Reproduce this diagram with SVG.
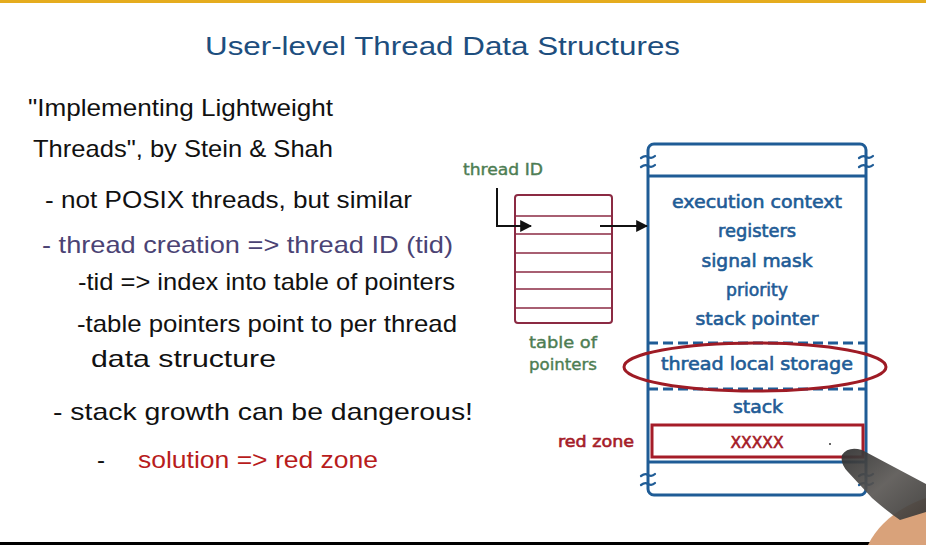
<svg xmlns="http://www.w3.org/2000/svg" width="926" height="545" viewBox="0 0 926 545">
<defs>
<style>
.hw{font-family:"Liberation Sans","DejaVu Sans",sans-serif;font-size:24px;fill:#111}
.purple{fill:#4b4374}
.redt{fill:#b81c1c}
.title{font-family:"Liberation Sans","DejaVu Sans",sans-serif;font-size:26px;fill:#1d4e7e}
.dg{font-family:"DejaVu Sans","Liberation Sans",sans-serif;font-size:17px;fill:#1f5c96;stroke:#1f5c96;stroke-width:0.6;text-anchor:middle}
.green{font-family:"DejaVu Sans","Liberation Sans",sans-serif;font-size:16px;fill:#4d7d52;stroke:#4d7d52;stroke-width:0.4}
.rz{font-family:"DejaVu Sans","Liberation Sans",sans-serif;font-size:16px;fill:#a51c28;stroke:#a51c28;stroke-width:0.6}
.blue{stroke:#1f5c96;stroke-width:3;fill:none}
.brk{stroke:#1f5c96;stroke-width:2.2;fill:none;stroke-linecap:round}
.row{stroke:#8b2a43;stroke-width:1.6}
.conn{stroke:#111;stroke-width:2;fill:none}
</style>
<marker id="ah" viewBox="0 0 10 10" refX="9" refY="5" markerWidth="6" markerHeight="6" orient="auto" markerUnits="strokeWidth">
<path d="M0,0 L10,5 L0,10 z" fill="#111"/>
</marker>
<linearGradient id="pen" x1="0" y1="0" x2="1" y2="1">
<stop offset="0" stop-color="#2e2e2e"/>
<stop offset="0.5" stop-color="#5a5754"/>
<stop offset="1" stop-color="#3a3836"/>
</linearGradient>
</defs>
<rect x="0" y="0" width="926" height="545" fill="#fff"/>
<rect x="0" y="0" width="926" height="3" fill="#e5ac1e"/>
<rect x="0" y="542" width="926" height="3" fill="#000"/>

<g id="title">
<text class="title" x="205" y="55" textLength="475" lengthAdjust="spacingAndGlyphs">User-level Thread Data Structures</text>
</g>

<g id="notes">
<text class="hw" x="28" y="116" textLength="305" lengthAdjust="spacingAndGlyphs">"Implementing Lightweight</text>
<text class="hw" x="33" y="157" textLength="300" lengthAdjust="spacingAndGlyphs">Threads", by Stein &amp; Shah</text>
<text class="hw" x="45" y="208" textLength="367" lengthAdjust="spacingAndGlyphs">- not POSIX threads, but similar</text>
<text class="hw purple" x="42" y="253" textLength="411" lengthAdjust="spacingAndGlyphs">- thread creation =&gt; thread ID (tid)</text>
<text class="hw" x="78" y="290" textLength="377" lengthAdjust="spacingAndGlyphs">-tid =&gt; index into table of pointers</text>
<text class="hw" x="77" y="332" textLength="380" lengthAdjust="spacingAndGlyphs">-table pointers point to per thread</text>
<text class="hw" x="91" y="367" textLength="185" lengthAdjust="spacingAndGlyphs">data structure</text>
<text class="hw" x="53" y="420" textLength="420" lengthAdjust="spacingAndGlyphs">- stack growth can be dangerous!</text>
<text class="hw" x="97" y="468">-</text>
<text class="hw redt" x="138" y="468" textLength="240" lengthAdjust="spacingAndGlyphs">solution =&gt; red zone</text>
</g>

<g id="thread-id-label">
<text class="green" x="463" y="175" textLength="80" lengthAdjust="spacingAndGlyphs">thread ID</text>
</g>

<g id="table-of-pointers">
<rect x="515" y="195" width="97" height="128" rx="3" fill="none" stroke="#8b2a43" stroke-width="2"/>
<line class="row" x1="515" y1="216" x2="612" y2="216"/>
<line class="row" x1="515" y1="234" x2="612" y2="234"/>
<line class="row" x1="515" y1="253" x2="612" y2="253"/>
<line class="row" x1="515" y1="272" x2="612" y2="272"/>
<line class="row" x1="515" y1="289" x2="612" y2="289"/>
<line class="row" x1="515" y1="308" x2="612" y2="308"/>
<text class="green" x="529" y="348" textLength="68" lengthAdjust="spacingAndGlyphs">table of</text>
<text class="green" x="529" y="370" textLength="68" lengthAdjust="spacingAndGlyphs">pointers</text>
</g>

<g id="thread-data-structure">
<rect class="blue" x="648" y="144" width="218" height="351" rx="6"/>
<line class="blue" x1="648" y1="176" x2="866" y2="176"/>
<path class="brk" d="M641,158 q4,-3 7,-1 q4,2 7,-1 M641,167 q4,-3 7,-1 q4,2 7,-1"/>
<path class="brk" d="M859,158 q4,-3 7,-1 q4,2 7,-1 M859,167 q4,-3 7,-1 q4,2 7,-1"/>
<text class="dg" x="757" y="208" textLength="170" lengthAdjust="spacingAndGlyphs">execution context</text>
<text class="dg" x="757" y="237" textLength="78" lengthAdjust="spacingAndGlyphs">registers</text>
<text class="dg" x="757" y="267" textLength="111" lengthAdjust="spacingAndGlyphs">signal mask</text>
<text class="dg" x="757" y="296" textLength="62" lengthAdjust="spacingAndGlyphs">priority</text>
<text class="dg" x="757" y="325" textLength="123" lengthAdjust="spacingAndGlyphs">stack pointer</text>
<line x1="648" y1="343" x2="866" y2="343" stroke="#1f5c96" stroke-width="3" stroke-dasharray="10,5"/>
<text class="dg" x="757" y="370" textLength="192" lengthAdjust="spacingAndGlyphs">thread local storage</text>
<line x1="648" y1="389" x2="866" y2="389" stroke="#1f5c96" stroke-width="3" stroke-dasharray="10,5"/>
<text class="dg" x="758" y="413" textLength="50" lengthAdjust="spacingAndGlyphs">stack</text>
<line class="blue" x1="648" y1="462" x2="866" y2="462"/>
<path class="brk" d="M641,476 q4,-3 7,-1 q4,2 7,-1 M641,485 q4,-3 7,-1 q4,2 7,-1"/>
<path class="brk" d="M859,476 q4,-3 7,-1 q4,2 7,-1 M859,485 q4,-3 7,-1 q4,2 7,-1"/>
</g>

<g id="red-zone">
<rect x="652" y="425" width="211" height="32" fill="#fff" stroke="#a51c28" stroke-width="3"/>
<text class="rz" x="757" y="448" text-anchor="middle" textLength="53" lengthAdjust="spacingAndGlyphs">XXXXX</text>
<circle cx="830" cy="444" r="1" fill="#333"/>
<text class="rz" x="558" y="447" textLength="76" lengthAdjust="spacingAndGlyphs">red zone</text>
</g>

<g id="tls-highlight">
<ellipse cx="755" cy="367" rx="131" ry="24" fill="none" stroke="#9e1b25" stroke-width="3"/>
</g>

<g id="connectors">
<path class="conn" d="M497,188 V226 H531" marker-end="url(#ah)"/>
<path class="conn" d="M600,226 H647" marker-end="url(#ah)"/>
</g>

<g id="pen-hand">
<path d="M926,498 C905,505 880,520 868,545 L926,545 Z" fill="#d9a27a"/>
<path d="M842,455 Q848,446 862,450 L926,484 L926,512 L900,520 Q888,512 872,498 L848,472 Q840,464 842,455 Z" fill="url(#pen)" opacity="0.92"/>
</g>
</svg>
